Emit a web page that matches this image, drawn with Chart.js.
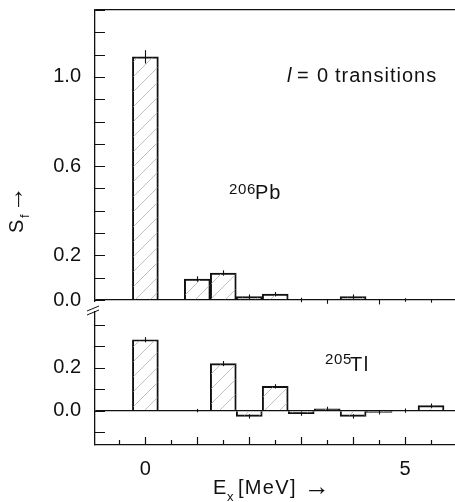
<!DOCTYPE html>
<html><head><meta charset="utf-8">
<script src="https://cdn.jsdelivr.net/npm/chart.js@4/dist/chart.umd.min.js"></script>
<style>html,body{margin:0;padding:0;background:#fff;overflow:hidden;width:455px;height:502px}canvas{display:block}</style>
</head><body>
<canvas id="c" width="460" height="502"></canvas>
<script>
// ---- data ----
const bins      = [0, 1.0, 1.5, 2.0, 2.5, 3.0, 3.5, 4.0, 4.5, 5.0, 5.5];          // E_x bin centres [MeV]
const pbValues  = [1.09, 0.094, 0.121, 0.015, 0.026, 0.0, -0.007, 0.015, -0.010, 0.0, -0.004]; // 206Pb S_f
const pbErrors  = [0.03, 0.012, 0.012, 0.01, 0.01, 0.01, 0.01, 0.01, 0.01, 0.008, 0.008];
const tlValues  = [0.33, 0.0, 0.219, -0.027, 0.113, -0.014, 0.008, -0.027, -0.008, 0.0, 0.023]; // 205Tl S_f
const tlErrors  = [0.012, 0.008, 0.012, 0.01, 0.01, 0.01, 0.01, 0.01, 0.01, 0.01, 0.01];
const xTicks    = [-0.5, 0, 0.5, 1, 1.5, 2, 2.5, 3, 3.5, 4, 4.5, 5, 5.5];
const xLabels   = {'0': '0', '5': '5'};
const yTopTicks = [0, 0.1, 0.2, 0.3, 0.4, 0.5, 0.6, 0.7, 0.8, 0.9, 1.0, 1.1, 1.2, 1.3];
const yTopLabels= ['0.0', '0.2', '0.6', '1.0'];
const yBotTicks = [-0.1, 0, 0.1, 0.2, 0.3, 0.4];
const yBotLabels= ['0.0', '0.2'];

const FONT = '"Liberation Sans", Arial, Helvetica, sans-serif';
const INK = '#111';

const canvas = document.getElementById('c');
const ctx = canvas.getContext('2d');

function hatchPattern() {
  const n = 15;
  const t = document.createElement('canvas');
  t.width = t.height = n;
  const g = t.getContext('2d');
  g.strokeStyle = '#b0b0b0';
  g.lineWidth = 0.8;
  g.beginPath();
  g.moveTo(-1, n + 1); g.lineTo(n + 1, -1);
  g.moveTo(-1, 1); g.lineTo(1, -1);
  g.moveTo(n - 1, n + 1); g.lineTo(n + 1, n - 1);
  g.stroke();
  return ctx.createPattern(t, 'repeat');
}
const pat = hatchPattern();

function setTicks(list) { return s => { s.ticks = list.map(v => ({value: v})); }; }
function lbl(list) { return v => { const s = Number(v).toFixed(1); return list.includes(s) ? s : ''; }; }
function edgeGrid(edges) {
  return c => (c.tick && edges.some(e => Math.abs(c.tick.value - e) < 1e-9)) ? INK : 'rgba(0,0,0,0)';
}
function fitY(s) { s.width = 95; s.paddingTop = 0; s.paddingBottom = 0; }
function fitX(s) { s.height = 57; s.paddingLeft = 0; s.paddingRight = 0; }

function text(c, s, x, y, size, opt = {}) {
  c.font = (opt.italic ? 'italic ' : '') + size + 'px ' + FONT;
  c.letterSpacing = (opt.ls || 0) + 'px';
  c.fillText(s, x, y);
}

const decor = {
  id: 'decor',
  afterDatasetsDraw(chart) {
    const c = chart.ctx;
    c.save();
    c.strokeStyle = INK; c.lineWidth = 1.1;
    chart.data.datasets.forEach((ds) => {
      const ys = chart.scales[ds.yAxisID], xs = chart.scales.x;
      ds.data.forEach((p, j) => {
        const e = ds.errors[j];
        const px = Math.round(xs.getPixelForValue(p.x)) + 0.5;
        c.beginPath();
        c.moveTo(px, ys.getPixelForValue(p.y - e));
        c.lineTo(px, ys.getPixelForValue(p.y + e));
        c.stroke();
      });
    });
    c.restore();
  },
  afterDraw(chart) {
    const c = chart.ctx, a = chart.chartArea;
    const xs = chart.scales.x, yt = chart.scales.yTop, yb = chart.scales.yBot;
    c.save();
    c.strokeStyle = INK; c.lineWidth = 1.2;
    // inward tick marks
    c.beginPath();
    xTicks.forEach(v => {
      const px = Math.round(xs.getPixelForValue(v)) + 0.5;
      const len = Number.isInteger(v) ? 8 : 5;
      c.moveTo(px, a.bottom); c.lineTo(px, a.bottom - len);
    });
    yTopTicks.forEach(v => {
      const py = Math.round(yt.getPixelForValue(v)) + 0.5;
      c.moveTo(a.left, py); c.lineTo(a.left + 10, py);
    });
    yBotTicks.forEach(v => {
      const py = Math.round(yb.getPixelForValue(v)) + 0.5;
      c.moveTo(a.left, py); c.lineTo(a.left + 10, py);
    });
    c.stroke();
    // axis break
    const yBreak = yt.bottom;
    c.fillStyle = '#fff';
    c.fillRect(a.left - 3, yBreak + 2, 6, 9);
    c.beginPath();
    c.lineWidth = 1;
    c.moveTo(a.left - 8, yBreak + 11); c.lineTo(a.left + 4, yBreak + 6);
    c.moveTo(a.left - 8, yBreak + 15); c.lineTo(a.left + 4, yBreak + 10);
    c.stroke();

    // texts
    c.fillStyle = INK;
    c.textAlign = 'left';
    c.textBaseline = 'alphabetic';
    text(c, 'l', 287, 82, 20, {italic: true});
    text(c, '=', 297, 82, 20);
    text(c, '0', 317, 82, 20);
    text(c, 'transitions', 335, 82, 20, {ls: 1});

    text(c, '206', 229, 194, 15, {ls: 0.6});
    text(c, 'Pb', 255, 199, 20, {ls: 1});
    text(c, '205', 325, 364, 15, {ls: 0.6});
    text(c, 'Tl', 350, 371, 20, {ls: 1.5});

    // x title
    text(c, 'E', 213, 494, 20);
    text(c, 'x', 227, 501, 13);
    text(c, '[MeV]', 238, 494, 20, {ls: 1.3});
    text(c, '\u2192', 304, 495, 26);

    // y title (rotated)
    c.save();
    c.translate(23, 233);
    c.rotate(-Math.PI / 2);
    text(c, 'S', 0, 0, 20);
    text(c, 'f', 15, 6, 13);
    text(c, '\u2192', 21, 0, 26);
    c.restore();
    c.restore();
  }
};

new Chart(ctx, {
  type: 'bar',
  data: {
    datasets: [
      { label: '206Pb', data: bins.map((x, i) => ({x, y: pbValues[i]})), errors: pbErrors,
        yAxisID: 'yTop', backgroundColor: pat, borderColor: INK, borderWidth: 1.3,
        grouped: false, barPercentage: 1, categoryPercentage: 1 },
      { label: '205Tl', data: bins.map((x, i) => ({x, y: tlValues[i]})), errors: tlErrors,
        yAxisID: 'yBot', backgroundColor: pat, borderColor: INK, borderWidth: 1.3,
        grouped: false, barPercentage: 1, categoryPercentage: 1 }
    ]
  },
  options: {
    responsive: false, animation: false, devicePixelRatio: 1,
    layout: {padding: {top: 10, right: 3, left: 0, bottom: 0}},
    plugins: {legend: {display: false}, tooltip: {enabled: false}},
    scales: {
      x: {
        type: 'linear', position: 'bottom', min: -0.97, max: 6, offset: false,
        afterBuildTicks: setTicks(xTicks),
        afterFit: fitX,
        ticks: {autoSkip: false, maxRotation: 0, padding: 12, color: INK,
                font: {family: FONT, size: 20},
                callback: v => xLabels[String(v)] || ''},
        grid: {display: false, drawTicks: false, offset: false},
        border: {display: true, color: INK, width: 1.3}
      },
      yBot: {
        type: 'linear', position: 'left', stack: 'v', stackWeight: 1, min: -0.16, max: 0.515,
        afterBuildTicks: setTicks(yBotTicks),
        afterFit: fitY,
        ticks: {autoSkip: false, padding: 14, color: INK, font: {family: FONT, size: 20},
                callback: lbl(yBotLabels)},
        grid: {drawTicks: false, color: edgeGrid([0]), lineWidth: 1.3},
        border: {display: true, color: INK, width: 1.3}
      },
      yTop: {
        type: 'linear', position: 'left', stack: 'v', stackWeight: 2, min: 0, max: 1.3,
        afterBuildTicks: setTicks(yTopTicks),
        afterFit: fitY,
        ticks: {autoSkip: false, padding: 14, color: INK, font: {family: FONT, size: 20},
                callback: lbl(yTopLabels)},
        grid: {drawTicks: false, color: edgeGrid([0, 1.3]), lineWidth: 1.3},
        border: {display: true, color: INK, width: 1.3}
      }
    }
  },
  plugins: [decor]
});
</script>
</body></html>
